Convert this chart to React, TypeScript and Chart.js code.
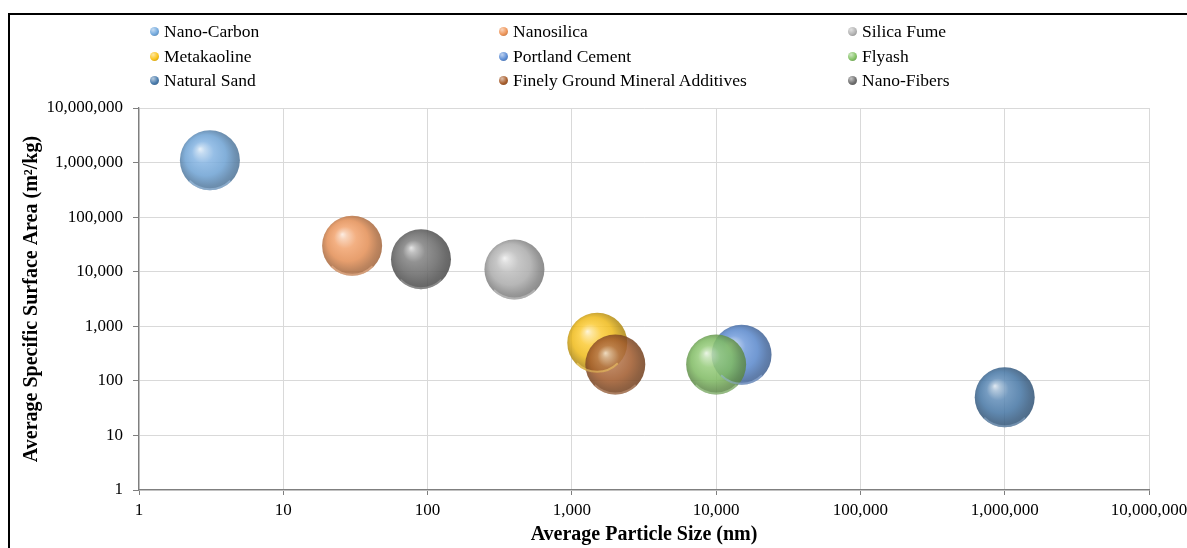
import React, { useEffect, useRef } from "react";
import { Chart, registerables } from "chart.js";

Chart.register(...registerables);

// ---------- data ----------
const SERIES_NAMES = [
  "Nano-Carbon",
  "Nanosilica",
  "Silica Fume",
  "Metakaoline",
  "Portland Cement",
  "Flyash",
  "Natural Sand",
  "Finely Ground Mineral Additives",
  "Nano-Fibers",
];
const PARTICLE_SIZE_NM = [3.1, 30, 400, 1500, 15000, 10000, 1000000, 2000, 90];
const SURFACE_AREA_M2KG = [1100000, 30000, 11000, 500, 300, 200, 50, 200, 17000];
const BUBBLE_RADIUS = [30, 30, 30, 30, 30, 30, 30, 30, 30];
const SERIES_COLORS = [
  "#74aade",
  "#ef965a",
  "#b4b4b4",
  "#fbc41c",
  "#5f8fd6",
  "#86c468",
  "#4a7cad",
  "#a9602f",
  "#6f6f6f",
];
const X_TICKS = [1, 10, 100, 1000, 10000, 100000, 1000000, 10000000];
const Y_TICKS = [1, 10, 100, 1000, 10000, 100000, 1000000, 10000000];
const X_TITLE = "Average Particle Size (nm)";
const Y_TITLE = "Average Specific Surface Area (m²/kg)";

// ---------- helpers ----------
function hexToRgb(hex: string): [number, number, number] {
  const h = hex.replace("#", "");
  return [parseInt(h.slice(0, 2), 16), parseInt(h.slice(2, 4), 16), parseInt(h.slice(4, 6), 16)];
}
function mix(hex: string, target: number, t: number, a: number): string {
  const [r, g, b] = hexToRgb(hex);
  const m = (c: number) => Math.round(c + (target - c) * t);
  return `rgba(${m(r)},${m(g)},${m(b)},${a})`;
}
const fmt = (v: number) => v.toLocaleString("en-US");

const ALPHA = 0.86;

function sphereFill(ctx: any, hex: string) {
  if (ctx.type !== "data") return hex;
  const chart = ctx.chart;
  const xs = chart.scales.x;
  const ys = chart.scales.y;
  const raw = ctx.raw;
  if (!xs || !ys || !raw) return hex;
  const cx = xs.getPixelForValue(raw.x);
  const cy = ys.getPixelForValue(raw.y);
  const r = raw.r;
  if (!isFinite(cx) || !isFinite(cy)) return hex;
  const g = chart.ctx.createRadialGradient(cx - 0.33 * r, cy - 0.38 * r, 0, cx - 0.05 * r, cy - 0.05 * r, 1.05 * r);
  g.addColorStop(0, mix(hex, 255, 0.8, ALPHA));
  g.addColorStop(0.12, mix(hex, 255, 0.5, ALPHA));
  g.addColorStop(0.35, mix(hex, 255, 0.12, ALPHA));
  g.addColorStop(0.65, mix(hex, 0, 0.05, ALPHA));
  g.addColorStop(0.88, mix(hex, 0, 0.25, ALPHA));
  g.addColorStop(1, mix(hex, 0, 0.32, ALPHA));
  return g;
}

// soft rim light at the bottom of each sphere
const rimPlugin = {
  id: "rimLight",
  afterDatasetsDraw(chart: any) {
    const c = chart.ctx;
    const xs = chart.scales.x;
    const ys = chart.scales.y;
    c.save();
    chart.data.datasets.forEach((ds: any, i: number) => {
      const p = ds.data[0];
      const cx = xs.getPixelForValue(p.x);
      const cy = ys.getPixelForValue(p.y);
      const r = p.r;
      c.beginPath();
      c.arc(cx, cy, r - 1, Math.PI * 0.25, Math.PI * 0.75);
      c.strokeStyle = mix(SERIES_COLORS[i], 255, 0.4, 0.5);
      c.lineWidth = 2;
      c.stroke();
    });
    c.restore();
  },
};

const SERIF = "'Liberation Serif', 'Times New Roman', serif";

export default function App() {
  const canvasRef = useRef<HTMLCanvasElement | null>(null);

  useEffect(() => {
    const canvas = canvasRef.current;
    if (!canvas) return;
    const datasets = SERIES_NAMES.map((name, i) => ({
      label: name,
      data: [{ x: PARTICLE_SIZE_NM[i], y: SURFACE_AREA_M2KG[i], r: BUBBLE_RADIUS[i] }],
      backgroundColor: (ctx: any) => sphereFill(ctx, SERIES_COLORS[i]),
      borderWidth: 0,
      order: SERIES_NAMES.length - i,
    }));

    const chart = new Chart(canvas, {
      type: "bubble",
      data: { datasets },
      plugins: [rimPlugin],
      options: {
        responsive: false,
        animation: false,
        events: [],
        devicePixelRatio: 1,
        layout: { padding: { left: 10, top: 108, right: 91, bottom: 0 } },
        plugins: {
          legend: { display: false },
          tooltip: { enabled: false },
        },
        scales: {
          x: {
            type: "logarithmic",
            position: "bottom",
            min: 1,
            max: 10000000,
            afterBuildTicks: (scale: any) => {
              scale.ticks = X_TICKS.map((v) => ({ value: v }));
            },
            afterFit: (scale: any) => {
              scale.height = 58;
            },
            ticks: {
              callback: (v: any) => fmt(Number(v)),
              font: { family: SERIF, size: 17 },
              color: "#000",
              padding: 5,
              maxRotation: 0,
              autoSkip: false,
            },
            grid: { color: "#d9d9d9", tickColor: "#7f7f7f", tickLength: 5, lineWidth: 1 },
            border: { color: "#7f7f7f", width: 1.3 },
            title: {
              display: true,
              text: X_TITLE,
              font: { family: SERIF, size: 20, weight: "bold" },
              color: "#000",
              padding: { top: 0, bottom: 1 },
            },
          },
          y: {
            type: "logarithmic",
            position: "left",
            min: 1,
            max: 10000000,
            afterBuildTicks: (scale: any) => {
              scale.ticks = Y_TICKS.map((v) => ({ value: v }));
            },
            afterFit: (scale: any) => {
              scale.width = 129;
            },
            ticks: {
              callback: (v: any) => fmt(Number(v)),
              font: { family: SERIF, size: 17 },
              color: "#000",
              padding: 10,
              autoSkip: false,
            },
            grid: { color: "#d9d9d9", tickColor: "#7f7f7f", tickLength: 6, lineWidth: 1 },
            border: { color: "#7f7f7f", width: 1.3 },
            title: {
              display: true,
              text: Y_TITLE,
              font: { family: SERIF, size: 20, weight: "bold" },
              color: "#000",
              padding: { top: 10, bottom: 0 },
            },
          },
        },
      } as any,
    });
    return () => chart.destroy();
  }, []);

  const colX = [150, 499, 848];
  const rowY = [31, 56, 80];

  return (
    <div
      style={{
        position: "fixed",
        left: 0,
        top: 0,
        width: 1187,
        height: 548,
        overflow: "hidden",
        background: "#fff",
      }}
    >
      <canvas
        ref={canvasRef}
        width={1240}
        height={548}
        style={{ position: "absolute", left: 0, top: 0, width: 1240, height: 548 }}
      />
      <div
        style={{
          position: "absolute",
          left: 8,
          top: 13,
          width: 1300,
          height: 700,
          borderTop: "2px solid #000",
          borderLeft: "2px solid #000",
          pointerEvents: "none",
        }}
      />
      {SERIES_NAMES.map((name, i) => {
        const col = i % 3;
        const row = Math.floor(i / 3);
        const c = SERIES_COLORS[i];
        return (
          <div
            key={name}
            style={{
              position: "absolute",
              left: colX[col],
              top: rowY[row] - 11,
              height: 22,
              display: "flex",
              alignItems: "center",
              fontFamily: SERIF,
              fontSize: 17.5,
              color: "#000",
              whiteSpace: "nowrap",
            }}
          >
            <span
              style={{
                display: "inline-block",
                width: 9,
                height: 9,
                borderRadius: "50%",
                marginRight: 5,
                background: `radial-gradient(circle at 35% 30%, ${mix(c, 255, 0.6, 1)} 0%, ${c} 55%, ${mix(
                  c,
                  0,
                  0.3,
                  1
                )} 100%)`,
              }}
            />
            <span>{name}</span>
          </div>
        );
      })}
    </div>
  );
}
